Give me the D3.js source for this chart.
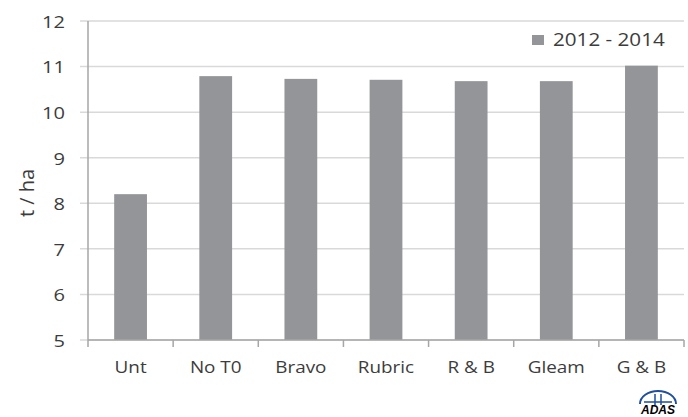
<!DOCTYPE html>
<html>
<head>
<meta charset="utf-8">
<script src="https://cdn.jsdelivr.net/npm/d3@7"></script>
<style>
    body { margin: 0; background: #fff; }
    svg text { font-family: "Open Sans", "Liberation Sans", sans-serif; fill: #3c3c3c; }
</style>
</head>
<body>
<div id="chart_area"></div>
<script>
const categories = ["Unt", "No T0", "Bravo", "Rubric", "R & B", "Gleam", "G & B"];
const yield_values = [8.2, 10.79, 10.73, 10.71, 10.68, 10.68, 11.02];
const y_ticks = [5, 6, 7, 8, 9, 10, 11, 12];
const series_name = "2012 - 2014";

const WIDTH = 688;
const HEIGHT = 417;
const BAR_COLOUR = "#939598";
const GRID_COLOUR = "#d9d9d9";
const AXIS_COLOUR = "#a6a6a6";
const STRETCH = 1.18;   // the original picture is a little wider than tall

let margin = {top: 21, right: 4, bottom: 77, left: 88};

let svg = d3.select("#chart_area")
    .append("svg")
    .attr("width", WIDTH)
    .attr("height", HEIGHT);

let x = d3.scaleBand()
    .domain(categories)
    .range([margin.left, WIDTH - margin.right]);

let y = d3.scaleLinear()
    .domain([5, 12])
    .range([HEIGHT - margin.bottom, margin.top]);

function stretched_text(parent, px, py, anchor, size, label) {
    return parent.append("text")
        .attr("transform", "translate(" + px + "," + py + ") scale(" + STRETCH + ",1)")
        .attr("text-anchor", anchor)
        .attr("dominant-baseline", "central")
        .attr("font-size", size)
        .text(label);
}

// gridlines, the ticks poke out to the left of the axis
let grid = svg.append("g");
grid.selectAll("line")
    .data(y_ticks)
    .enter()
    .append("line")
    .attr("x1", margin.left - 8)
    .attr("x2", WIDTH - margin.right)
    .attr("y1", function (d) { return y(d); })
    .attr("y2", function (d) { return y(d); })
    .attr("stroke", GRID_COLOUR)
    .attr("stroke-width", 1.5);
y_ticks.forEach(function (d) {
    stretched_text(svg, 65, y(d), "end", 17, d3.format("d")(d));
});

svg.append("line")
    .attr("x1", margin.left).attr("x2", margin.left)
    .attr("y1", margin.top).attr("y2", y(5))
    .attr("stroke", AXIS_COLOUR)
    .attr("stroke-width", 1.5);

// bars
const bar_width = x.bandwidth() * 0.385;
svg.append("g")
    .selectAll("rect")
    .data(categories)
    .enter()
    .append("rect")
    .attr("x", function (d) { return x(d) + (x.bandwidth() - bar_width) / 2; })
    .attr("y", function (d, i) { return y(yield_values[i]); })
    .attr("width", bar_width)
    .attr("height", function (d, i) { return y(5) - y(yield_values[i]); })
    .attr("fill", BAR_COLOUR);

// category axis with ticks at the band edges
let x_axis = svg.append("g")
    .attr("transform", "translate(0," + y(5) + ")");
x_axis.append("line")
    .attr("x1", margin.left).attr("x2", WIDTH - margin.right)
    .attr("stroke", AXIS_COLOUR)
    .attr("stroke-width", 1.5);
x_axis.selectAll(".edge")
    .data(categories.concat(["end"]))
    .enter()
    .append("line")
    .attr("class", "edge")
    .attr("x1", function (d, i) { return margin.left + i * x.step(); })
    .attr("x2", function (d, i) { return margin.left + i * x.step(); })
    .attr("y1", 0).attr("y2", 7)
    .attr("stroke", AXIS_COLOUR)
    .attr("stroke-width", 1.5);
categories.forEach(function (d) {
    stretched_text(x_axis, x(d) + x.bandwidth() / 2, 27, "middle", 16, d);
});

// y title
svg.append("text")
    .attr("transform", "translate(26,193) rotate(-90)")
    .attr("text-anchor", "middle")
    .attr("dominant-baseline", "central")
    .attr("font-size", 20)
    .attr("fill", "#262626")
    .text("t / ha");

// legend
let legend = svg.append("g").attr("transform", "translate(532,35)");
legend.append("rect")
    .attr("width", 12).attr("height", 10)
    .attr("fill", BAR_COLOUR);
stretched_text(legend, 21, 5, "start", 17.5, series_name);

// ADAS logo
let logo = svg.append("g").attr("transform", "translate(658,401)");
logo.append("path")
    .attr("d", "M-18,3 A18,13 0 0 1 18,3")
    .attr("fill", "none")
    .attr("stroke", "#1f4f9e")
    .attr("stroke-width", 2);
logo.append("path")
    .attr("d", "M-14,1 H14 M-3,-7 V4 M3,-7 V4")
    .attr("stroke", "#1f4f9e")
    .attr("stroke-width", 1.5);
logo.append("text")
    .attr("x", 0).attr("y", 13)
    .attr("text-anchor", "middle")
    .attr("font-size", 12)
    .attr("font-weight", "bold")
    .attr("font-style", "italic")
    .style("fill", "#000")
    .style("font-family", "'Liberation Sans', sans-serif")
    .text("ADAS");
</script>
</body>
</html>
